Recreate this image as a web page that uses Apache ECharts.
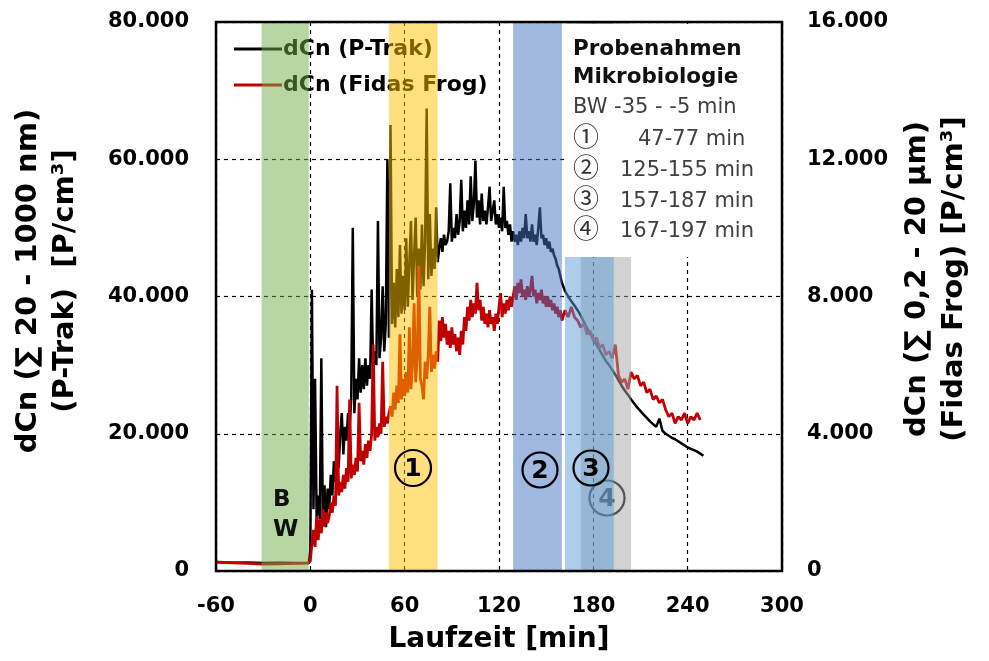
<!DOCTYPE html>
<html><head><meta charset="utf-8">
<script src="https://cdn.jsdelivr.net/npm/echarts@6/dist/echarts.min.js"></script>
<style>html,body{margin:0;padding:0;background:#fff}#c{width:989px;height:661px}</style>
</head><body><div id="c"></div>
<script>
// ---------- data ----------
const timeMin = [-60,-50,-40,-30,-20,-10,-1,
0,1,2,3,4,5,6,7,8,9,
10,11,12,13,14,15,16,17,18,19,
20,21,22,23,24,25,26,27,28,29,
30,31,32,33,34,35,36,37,38,39,
40,41,42,43,44,45,46,47,48,49,
50,51,52,53,54,55,56,57,58,59,
60,61,62,63,64,65,66,67,68,69,
70,71,72,73,74,75,76,77,78,79,
80,81,82,83,84,85,86,87,88,89,
90,91,92,93,94,95,96,97,98,99,
100,101,102,103,104,105,106,107,108,109,
110,111,112,113,114,115,116,117,118,119,
120,121,122,123,124,125,126,127,128,129,
130,131,132,133,134,135,136,137,138,139,
140,141,142,143,144,145,146,147,148,149,
150,151,152,153,154,155,156,157,158,159,
160,162,164,166,168,170,172,174,176,178,
180,182,184,186,188,190,192,194,196,198,
200,202,204,206,208,210,212,214,216,218,
220,222,224,226,228,230,232,234,236,238,
240,242,244,246,248,250];

// P-Trak, left axis [P/cm3]
const pTrak = [1300,1200,1250,1150,1200,1150,1200,
3000,41000,9000,28000,8000,11000,7500,31000,6500,12500,
6400,12000,9000,14000,11000,16000,13000,18000,15000,20000,
23000,17000,21000,19000,23000,21000,25000,50000,23000,28000,
25000,31000,26000,30000,26500,31000,27000,30000,28000,41000,
29000,32000,30000,51000,31000,34000,41500,32000,36000,60000,
34000,65000,36000,42000,35500,44000,37000,47500,37500,43000,
38000,48500,38500,45000,51000,39500,46000,51500,40000,47000,
41000,50500,41500,48000,67400,42500,52000,43000,47000,44000,
53000,45000,47000,48500,46500,49000,47500,48000,49500,56500,
48000,50000,48500,52000,49000,51000,57000,49500,52500,50000,
54000,50500,57500,51000,53500,59800,51500,54000,50500,55000,
51000,52500,50500,53000,56000,51000,52500,54000,50500,52000,
50000,51500,49500,56000,50000,51000,49000,50500,48000,49500,
48000,49000,47500,49500,48000,50000,48500,52000,48500,49500,
48000,50500,48000,49000,47500,50000,53000,48500,49000,47500,
48500,47000,48000,46500,47000,46000,45500,44500,44000,43000,
42000,40800,40000,39300,38700,38000,37200,36300,35400,34500,
33800,33000,32200,31400,30600,30000,29300,28600,27800,27000,
26300,25700,25000,24400,23800,23300,22800,22300,21800,21400,
21000,22200,20400,20000,19700,19400,19200,18900,18600,18300,
18000,17800,17600,17400,17100,16800];

// Fidas Frog, right axis [P/cm3]
const fidasFrog = [260,240,220,200,210,220,230,
300,800,1200,700,1600,900,1500,1100,1800,1300,
1700,1400,1600,2000,1700,2200,1900,5400,2200,2600,
2300,2800,2400,3000,2600,5000,2700,3100,2800,3300,
2900,4900,3200,3500,3100,3700,3300,3800,3500,4000,
6600,3800,4200,3900,4300,4000,6100,4200,4500,4300,
4600,4800,4500,5200,4700,5400,4900,6900,5000,5600,
5100,5800,5200,7100,5300,6000,7800,5500,6200,8900,
5600,5400,5000,6100,5600,6300,7700,5800,6300,5900,
6400,6100,7300,6700,7400,6800,7200,6600,7000,6500,
7100,6600,6900,6400,6800,6300,7000,6600,7400,7000,
7700,7300,7900,7400,7800,7500,8400,7600,7900,7300,
7700,7200,7500,7100,7600,7200,7400,7000,7500,7200,
7700,8100,7400,7800,7500,7900,7600,8000,7700,8000,
8300,7900,8400,8100,8500,8000,8200,7900,8300,8000,
8200,8600,8000,8200,7800,8100,7900,8200,7800,8000,
7700,8000,7700,7900,7600,7800,7500,7700,7400,7600,
7300,7600,7400,7700,7400,7300,7100,7200,6900,7000,
6700,6800,6500,6600,6300,6400,6200,6600,5700,5500,
5600,5300,5800,5600,5700,5400,5500,5200,5300,5000,
5100,4900,5000,4700,4500,4600,4300,4500,4400,4600,
4300,4500,4400,4600,4400,null];

const seriesNames = ['dCn (P-Trak)', 'dCn (Fidas Frog)'];
// sampling windows as drawn [min] (band 4 listed before band 3: drawn underneath)
const bandRanges = [[-31,-1],[50,81],[129,160],[172,204],[162,193]];
const xTicks = {min:-60, max:300, step:60};
const yLeft = {min:0, max:80000, step:20000};
const yRight = {min:0, max:16000, step:4000};
const noteTitle = ['Probenahmen','Mikrobiologie'];
const noteMarks = ['', '\u2460', '\u2461', '\u2462', '\u2463'];
const noteRanges = ['BW -35 - -5 min','47-77 min','125-155 min','157-187 min','167-197 min'];
const plotMarks = ['1','2','3','4'];
const bwLabel = ['B','W'];

// ---------- styles / layout ----------
const FONT = '"DejaVu Sans"';
const CJK = '"Noto Sans CJK JP"';
const bandColors = ['#70ad47','#ffc000','#4472c4','#a5a5a5','#5b9bd5'];
const G = {left:216, top:22, right:207, bottom:90};
const W = 989, H = 661;
const fmt = v => String(v).replace(/\B(?=(\d{3})+(?!\d))/g, '.');

const chart = echarts.init(document.getElementById('c'), null, {renderer:'canvas'});

const txt = (text, x, y, font, fill, z, align) => ({
  type:'text', x:x, y:y, z:z, silent:true,
  style:{text:text, font:font, fill:fill, align:align||'left', verticalAlign:'middle'}
});
const circ = (cx, cy, r, label, z) => [
  {type:'circle', z:z, silent:true, shape:{cx:cx, cy:cy, r:r}, style:{fill:'none', stroke:'#000', lineWidth:2.2}},
  txt(label, cx, cy + 1, 'bold 25px ' + FONT, '#000', z, 'center')
];

const graphics = [];
// annotation box
graphics.push({type:'rect', z:30, silent:true, shape:{x:564, y:24, width:216, height:233}, style:{fill:'#fff'}});
// plot frame
graphics.push({type:'rect', z:40, silent:true,
  shape:{x:G.left, y:G.top, width:W - G.left - G.right, height:H - G.top - G.bottom},
  style:{fill:'none', stroke:'#000', lineWidth:2.5}});
graphics.push(txt(noteTitle[0], 573, 49, 'bold 21.5px ' + FONT, '#111', 31));
graphics.push(txt(noteTitle[1], 573, 77, 'bold 21.5px ' + FONT, '#111', 31));
const noteY = [108, 140, 171, 202, 232];
const noteX = [573, 638, 620, 620, 620];
noteRanges.forEach((s, i) => {
  if (noteMarks[i]) graphics.push(txt(noteMarks[i], 573, noteY[i] - 4, '26px ' + CJK, '#333', 31));
  graphics.push(txt(s, noteX[i], noteY[i], '21px ' + FONT, '#404040', 31));
});
// circled sample numbers in plot
graphics.push(...circ(413, 468, 18, plotMarks[0], 31));
graphics.push(...circ(540, 470, 17.5, plotMarks[1], 31));
graphics.push(...circ(591, 468, 17.5, plotMarks[2], 31));
graphics.push(...circ(607, 498, 17.5, plotMarks[3], 5));
graphics.push(txt(bwLabel[0], 273, 500, 'bold 23px ' + FONT, '#111', 31));
graphics.push(txt(bwLabel[1], 273, 530, 'bold 23px ' + FONT, '#111', 31));

const axisLabelStyle = {fontFamily:FONT, fontSize:21, fontWeight:'bold', color:'#000'};

const option = {
  animation:false,
  textStyle:{fontFamily:FONT},
  grid:{left:G.left, top:G.top, right:G.right, bottom:G.bottom, containLabel:false, outerBoundsMode:'none', show:false},
  legend:{
    orient:'vertical', left:229, top:33, z:4,
    icon:'rect', itemWidth:48, itemHeight:3, itemGap:14,
    textStyle:{fontFamily:FONT, fontSize:22, fontWeight:'bold', color:'#000', padding:[0,0,0,-4]},
    data:seriesNames
  },
  xAxis:{
    type:'value', min:xTicks.min, max:xTicks.max, interval:xTicks.step,
    axisLine:{show:false}, axisTick:{show:false},
    axisLabel:Object.assign({margin:25}, axisLabelStyle),
    splitLine:{show:true, lineStyle:{color:'#000', width:1.2, type:[4,4]}},
    name:'Laufzeit [min]', nameLocation:'middle', nameGap:55,
    nameTextStyle:{fontFamily:FONT, fontSize:28, fontWeight:'bold', color:'#000'}
  },
  yAxis:[{
    type:'value', position:'left', min:yLeft.min, max:yLeft.max, interval:yLeft.step,
    axisLine:{show:false}, axisTick:{show:false},
    axisLabel:Object.assign({margin:27, formatter:fmt}, axisLabelStyle),
    splitLine:{show:true, lineStyle:{color:'#000', width:1.2, type:[4,4]}},
    name:'dCn (\u2211 20 - 1000 nm)\n(P-Trak)  [P/cm\u00b3]', nameLocation:'middle', nameRotate:90, nameGap:132,
    nameTextStyle:{fontFamily:FONT, fontSize:29, fontWeight:'bold', color:'#000', lineHeight:37, padding:[0,0,0,31]}
  },{
    type:'value', position:'right', min:yRight.min, max:yRight.max, interval:yRight.step,
    axisLine:{show:false}, axisTick:{show:false},
    axisLabel:Object.assign({margin:25, formatter:fmt}, axisLabelStyle),
    splitLine:{show:false},
    name:'dCn (\u2211 0,2 - 20 \u00b5m)\n(Fidas Frog) [P/cm\u00b3]', nameLocation:'middle', nameRotate:90, nameGap:113,
    nameTextStyle:{fontFamily:FONT, fontSize:29, fontWeight:'bold', color:'#000', lineHeight:37, padding:[0,0,0,35]}
  }],
  graphic:{elements:graphics},
  series:[{
    name:seriesNames[0], type:'line', yAxisIndex:0, z:3,
    data:timeMin.map((t, i) => [t, pTrak[i]]),
    showSymbol:false, symbol:'none', connectNulls:false,
    lineStyle:{color:'#000', width:2.5}, itemStyle:{color:'#000'}
  },{
    name:seriesNames[1], type:'line', yAxisIndex:1, z:4,
    data:timeMin.map((t, i) => [t, fidasFrog[i]]),
    showSymbol:false, symbol:'none', connectNulls:false,
    lineStyle:{color:'#c00000', width:2.8}, itemStyle:{color:'#c00000'}
  },{
    name:'bands', type:'custom', yAxisIndex:0, z:10, silent:true,
    data:bandRanges.map((r, i) => [r[0], r[1], i]),
    encode:{x:[0,1]},
    renderItem:(params, api) => {
      const p0 = api.coord([api.value(0), yLeft.max]);
      const p1 = api.coord([api.value(1), yLeft.min]);
      return {type:'rect', shape:{x:p0[0], y:p0[1], width:p1[0]-p0[0], height:p1[1]-p0[1]},
              style:{fill:bandColors[api.value(2)], opacity:0.5}};
    }
  }]
};
chart.setOption(option);
</script></body></html>
